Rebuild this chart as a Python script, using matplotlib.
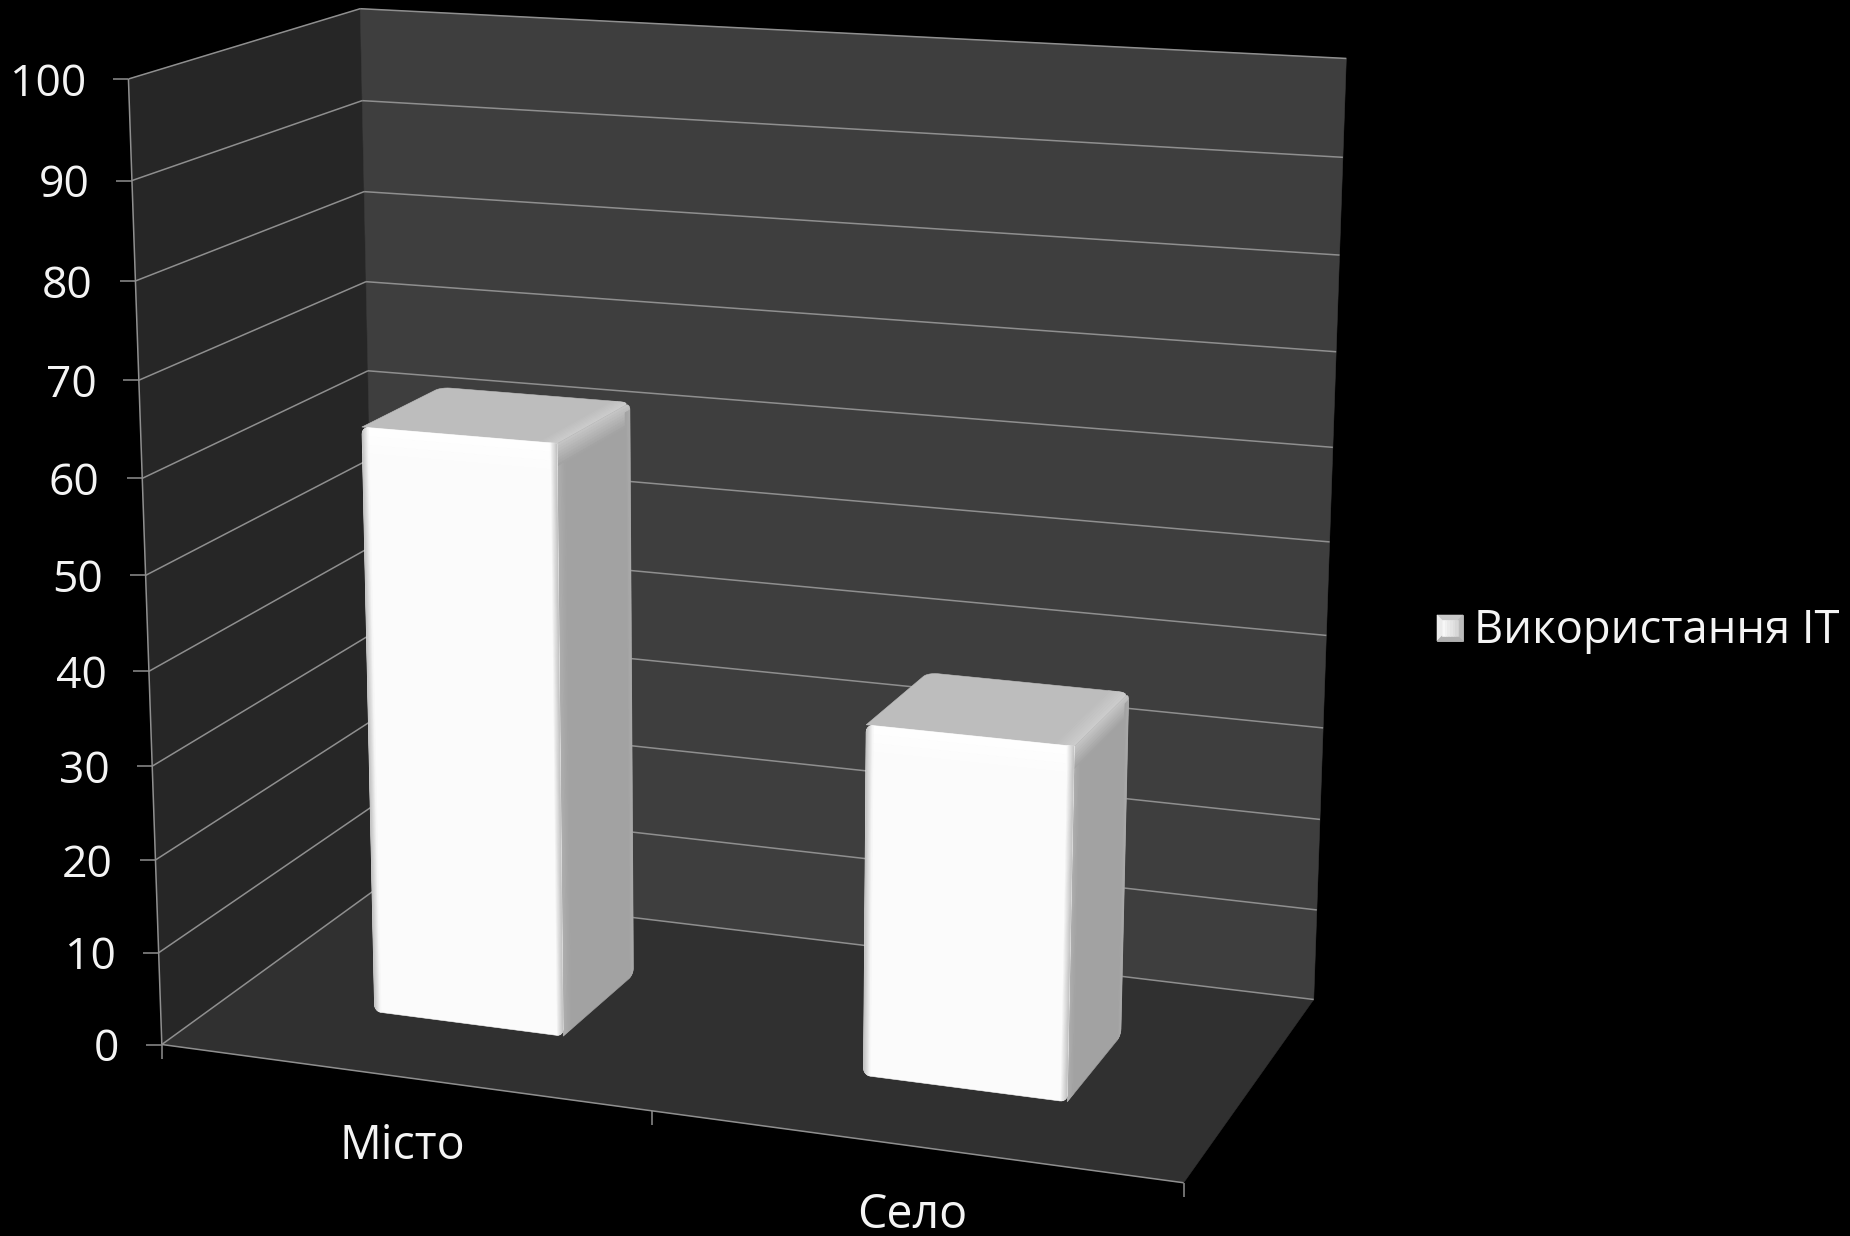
import numpy as np
import matplotlib
matplotlib.use("Agg")
import matplotlib.pyplot as plt
from matplotlib.patches import Polygon
from matplotlib.colors import to_rgb

categories = ["Місто", "Село"]
values = [63, 37]
series_name = "Використання IT"
y_ticks = [0, 10, 20, 30, 40, 50, 60, 70, 80, 90, 100]

# box corners on screen, used to fit the perspective of the 3d scale
# (category pos, depth, value) -> pixel
box_world = [(0, 0, 0), (0, 0, 100), (0, 1, 100), (0, 1, 0), (2, 1, 100), (2, 1, 0),
             (2, 0, 0), (1, 0, 0), (0, 0, 50), (0, 1, 60), (2, 1, 50), (2, 1, 90)]
box_screen = [(161.6, 1045), (128.6, 79), (359.4, 8.7), (379, 887), (1346, 58), (1314, 998.5),
              (1183.5, 1183), (651.8, 1111), (146.4, 574.5), (368.3, 371), (1329.6, 542.7), (1343.3, 157.7)]


def fit_camera(world, screen):
    rows = []
    for (a, b, c), (sx, sy) in zip(world, screen):
        w = [a, b, c / 100, 1]
        rows.append(w + [0, 0, 0, 0] + [-sx * i for i in w])
        rows.append([0, 0, 0, 0] + w + [-sy * i for i in w])
    return np.linalg.svd(np.array(rows))[2][-1].reshape(3, 4)


cam = fit_camera(box_world, box_screen)


def project(u, d, v):
    p = cam @ np.array([u, d, v / 100, 1.0])
    return p[0] / p[2], p[1] / p[2]


def mix(c1, c2, t):
    return tuple(np.array(to_rgb(c1)) * (1 - t) + np.array(to_rgb(c2)) * t)


fig = plt.figure(figsize=(18.5, 12.36), dpi=100, facecolor="black")
ax = fig.add_axes([0, 0, 1, 1])
ax.set_xlim(0, 1850)
ax.set_ylim(1236, 0)
ax.axis("off")

grid = "#8f8f8f"
font = "Open Sans"
txt = "#f4f4f4"


def face(pts, color, z, clip=None):
    p = Polygon(pts, closed=True, facecolor=color, edgecolor=color, lw=0.4, zorder=z)
    ax.add_patch(p)
    if clip is not None:
        p.set_clip_path(clip)
    return p


# walls and floor
face([project(0, 0, 0), project(0, 0, 100), project(0, 1, 100), project(0, 1, 0)], "#262626", 1)
face([project(0, 1, 0), project(0, 1, 100), project(2, 1, 100), project(2, 1, 0)], "#3e3e3e", 1)
face([project(0, 0, 0), project(0, 1, 0), project(2, 1, 0), project(2, 0, 0)], "#303030", 1)


def line(p0, p1, z=2):
    ax.plot([p0[0], p1[0]], [p0[1], p1[1]], color=grid, lw=1.1, zorder=z, solid_capstyle="butt")


for t in y_ticks:
    line(project(0, 0, t), project(0, 1, t))
    line(project(0, 1, t), project(2, 1, t))
    x0, y0 = project(0, 0, t)
    line((x0, y0), (x0 - 15.5, y0))
    ax.text(x0 - 42.5, y0, str(t), color=txt, fontsize=32, family=font, ha="right", va="center_baseline")

line(project(0, 0, 0), project(0, 0, 100))
line(project(0, 0, 0), project(2, 0, 0))
for i in range(3):
    x0, y0 = project(i, 0, 0)
    line((x0, y0), (x0, y0 + 14))
for i, name in enumerate(categories):
    x0, y0 = project(i + 0.5, 0, 0)
    ax.text(x0, y0 + 63.5, name, color=txt, fontsize=33.5, family=font, ha="center", va="center_baseline")

# bars
bar_u0, bar_u1 = 0.305, 0.70
bar_d0, bar_d1 = 0.305, 0.675


def rounded(f, rs, rt, corners=(1, 1, 1, 1)):
    # outline of a face f(s, t) with soft corners, order: ll, ul, ur, lr
    pts = []
    angles = [(np.pi, 1.5 * np.pi), (0.5 * np.pi, np.pi), (0, 0.5 * np.pi), (1.5 * np.pi, 2 * np.pi)]
    centres = [(rs, rt), (rs, 1 - rt), (1 - rs, 1 - rt), (1 - rs, rt)]
    for k in range(4):
        cs, ct = centres[k]
        a0, a1 = angles[k]
        if not corners[k]:
            pts.append(f(0.0 if cs < 0.5 else 1.0, 0.0 if ct < 0.5 else 1.0))
            continue
        for a in np.linspace(a1, a0, 7):
            pts.append(f(cs + rs * np.cos(a), ct + rt * np.sin(a)))
    return pts


def shade(f, s0, s1, t0, t1, c0, c1, axis, z, clip, n=8):
    # gradient band on a face, built from thin slices
    for k in range(n):
        a, b = k / n, (k + 1) / n
        col = mix(c0, c1, (a + b) / 2)
        if axis == "s":
            sa, sb = s0 + (s1 - s0) * a, s0 + (s1 - s0) * b
            pts = [f(sa, t0), f(sa, t1), f(sb, t1), f(sb, t0)]
        else:
            ta, tb = t0 + (t1 - t0) * a, t0 + (t1 - t0) * b
            pts = [f(s0, ta), f(s0, tb), f(s1, tb), f(s1, ta)]
        face(pts, col, z, clip)


def bar(i, val, z):
    u0, u1 = i + bar_u0, i + bar_u1
    dt = 1.6 / val

    def front(s, t):
        return project(u0 + (u1 - u0) * s, bar_d0, val * t)

    def side(s, t):
        return project(u1, bar_d0 + (bar_d1 - bar_d0) * s, val * t)

    def top(s, t):
        return project(u0 + (u1 - u0) * s, bar_d0 + (bar_d1 - bar_d0) * t, val)

    # side face
    base = face(rounded(side, 0.07, 0.012 * 63 / val, corners=(0, 0, 1, 1)), "#a2a2a2", z)
    shade(side, 0, 1, 1 - 1.5 * dt, 1, "#a2a2a2", "#c6c6c6", "t", z, base)
    shade(side, 0, 0.12, 0, 1 - 1.5 * dt, "#b0b0b0", "#a2a2a2", "s", z, base)
    shade(side, 0.93, 1, 0, 1 - 0.5 * dt, "#a2a2a2", "#aaaaaa", "s", z, base)

    # top face
    base = face(rounded(top, 0.05, 0.07, corners=(0, 1, 1, 0)), "#bdbdbd", z)
    shade(top, 0.9, 1, 0, 1, "#bdbdbd", "#cdcdcd", "s", z, base)

    # front face
    base = face(rounded(front, 0.035, 0.012 * 63 / val, corners=(1, 1, 0, 1)), "#fbfbfb", z + 1)
    shade(front, 0, 1, 1 - 1.7 * dt, 1, "#fbfbfb", "#ffffff", "t", z + 1, base, n=3)
    shade(front, 0, 0.035, 0, 1, "#bcbcbc", "#fbfbfb", "s", z + 1, base)
    shade(front, 0.965, 1, 0, 1, "#ffffff", "#c0c0c0", "s", z + 1, base)


for i, val in enumerate(values):
    bar(i, val, 5 + 2 * i)

# legend swatch
sx0, sx1, sy0, sy1 = 1437, 1463, 615, 641
b = 5
face([(sx0, sy0), (sx1, sy0), (sx1, sy1), (sx0, sy1)], "#d8d8d8", 5)
face([(sx0, sy0), (sx1, sy0), (sx1 - b, sy0 + b), (sx0 + b, sy0 + b)], "#cacaca", 6)
face([(sx0, sy0), (sx0 + b, sy0 + b), (sx0 + b, sy1 - b), (sx0, sy1)], "#ececec", 6)
face([(sx1, sy0), (sx1, sy1), (sx1 - b, sy1 - b), (sx1 - b, sy0 + b)], "#bcbcbc", 6)
face([(sx0, sy1), (sx1, sy1), (sx1 - b, sy1 - b), (sx0 + b, sy1 - b)], "#b0b0b0", 6)
shade(lambda s, t: (sx0 + b + (sx1 - sx0 - 2 * b) * s, sy1 - b - (sy1 - sy0 - 2 * b) * t),
      0, 1, 0, 1, "#fafafa", "#d4d4d4", "s", 7, None, n=6)
ax.text(1474, 625, series_name, color=txt, fontsize=32.7, family=font, ha="left", va="center_baseline")

fig.savefig("out.png", dpi=100, facecolor="black")
